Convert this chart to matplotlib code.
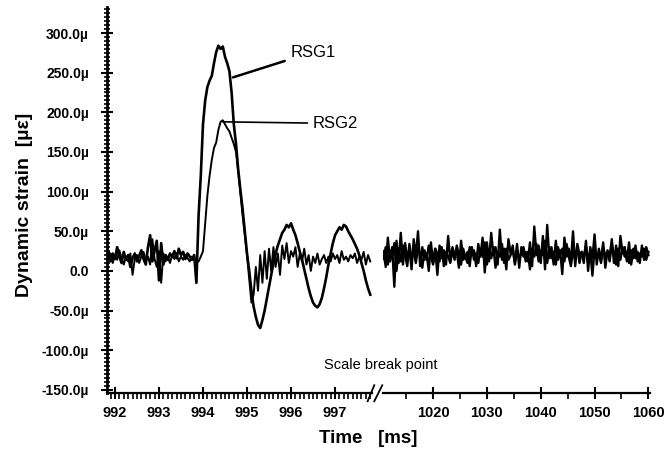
import numpy as np
import matplotlib
matplotlib.use("Agg")
import matplotlib.pyplot as plt
from matplotlib.ticker import MultipleLocator, FixedLocator

plt.rcParams['font.family'] = ['Liberation Sans', 'DejaVu Sans']

# sampling grid of the two recorded windows (ms)
t_left_start, t_left_step = 991.80, 0.05
t_right_start, t_right_step = 1010.8, 0.4

# strain in micro-strain
rsg1_left = [
    20, 25, 12, 22, 15, 30, 18, 10, 24, 14,
    20, 5, 16, 22, 12, 19, 26, 15, 8, 30,
    45, 12, 25, 38, -12, 35, 8, 20, 14, 22,
    18, 25, 16, 28, 20, 24, 15, 22, 18, 14,
    20, -15,
    70, 120, 185, 215, 232, 240, 246, 262, 276, 284,
    280, 283, 270, 262, 252, 225, 185, 160, 128, 102,
    78, 50,
    22, 0, -25, -45, -58, -68, -72, -62, -50, -35,
    -20, -5, 10, 22, 32, 40, 48, 52, 58, 55,
    60, 52, 45, 35, 24, 14, 2, -10, -22, -32,
    -40, -44, -46, -42, -34, -22, -8, 8, 22, 35,
    45, 50, 55, 52, 58, 56, 50, 45, 40, 34,
    28, 20, 10, 0, -12, -22, -30,
]
rsg2_left = [
    15, 18, 22, 10, 20, 14, 26, 16, 8, 18,
    12, 22, -5, 15, 20, 10, 18, 24, 12, 18,
    8, 40, 15, 5, 25, -15, 22, 12, 18, 10,
    20, 15, 22, 12, 18, 14, 20, 16, 12, 18,
    15, 10,
    12, 18, 25, 60, 95, 120, 140, 155, 162, 178,
    188, 190, 185, 180, 176, 168, 160, 150, 125, 98,
    70, 45, 20,
    -10, -40, -30, 5, -25, 20, -15, 25, -10, 28,
    0, 30, 5, 22, -5, 32, 15, 35, 10, 25,
    18, 30, 5, 22, 12, 28, 8, 20, 0, 18,
    10, 22, 8, 15, 20, 10, 18, 12, 22, 15,
    20, 10, 25, 14, 18, 12, 20, 16, 22, 10,
    18, 14, 24, 8, 20, 12,
]
rsg1_right = [
    25, 5, 42, 12, 30, -20, 38, 10, 48, 8,
    35, 15, 28, 2, 40, 18, 50, 6, 30, 14,
    22, 0, 36, 10, 28, -5, 32, 16, 26, 8,
    44, 12, 30, 20, 24, 4, 38, 14, 18, 10,
    30, 22, 26, 6, 34, 18, 42, -2, 36, 12,
    48, 20, 30, 8, 52, 14, 28, 2, 40, 22,
    26, 10, 34, 4, 30, 18, 24, 12, 36, 6,
    56, 20, 32, 10, 44, 2, 58, 16, 30, 8,
    38, 14, 26, -4, 42, 18, 28, 12, 50, 6,
    34, 20, 24, 10, 38, 0, 30, 16, 46, 8,
    28, 14, 36, 4, 26, 18, 40, 10, 32, 6,
    44, 22, 30, 12, 36, 8, 28, 16, 24, 10,
    32, 14, 30, 20,
]
rsg2_right = [
    15, 30, 8, 26, 18, 35, 0, 28, 12, 32,
    20, 6, 34, 16, 24, 10, 30, 20, 4, 26,
    14, 32, 18, 8, 28, 22, 12, 30, 6, 24,
    18, 10, 26, 14, 32, 20, 8, 28, 16, 24,
    6, 30, 14, 22, 10, 28, 18, 36, 8, 26,
    16, 30, 4, 24, 18, 34, 10, 28, 14, 20,
    32, 8, 26, 16, 22, 30, 12, 24, 2, 28,
    18, 34, 12, 26, 20, 38, 10, 30, 16, 24,
    8, 30, 20, 28, 12, 34, 18, 6, 26, 14,
    30, 10, 24, 18, 32, 12, 26, -6, 28, 16,
    22, 10, 30, 18, 24, 12, 34, 20, 8, 28,
    14, 30, 18, 24, 10, 26, 16, 32, 12, 22,
    18, 28, 14, 24,
]

y_ticks = [-150, -100, -50, 0, 50, 100, 150, 200, 250, 300]
y_tick_labels = ['-150.0µ', '-100.0µ', '-50.0µ', '0.0', '50.0µ',
                 '100.0µ', '150.0µ', '200.0µ', '250.0µ', '300.0µ']
x_ticks_left = [992, 993, 994, 995, 996, 997]
x_ticks_right = [1020, 1030, 1040, 1050, 1060]

t_left = t_left_start + t_left_step * np.arange(len(rsg1_left))
t_right = t_right_start + t_right_step * np.arange(len(rsg1_right))

fig = plt.figure(figsize=(6.66, 4.57), dpi=100)
ax1 = fig.add_axes([0.1607, 0.140, 0.3979, 0.845])
ax2 = fig.add_axes([0.5751, 0.140, 0.4009, 0.845], sharey=ax1)

ax1.plot(t_left, rsg2_left, color='black', lw=1.4)
ax1.plot(t_left, rsg1_left, color='black', lw=1.9)
ax2.plot(t_right, rsg2_right, color='black', lw=1.7)
ax2.plot(t_right, rsg1_right, color='black', lw=1.7)

ax1.set_xlim(991.82, 997.84)
ax2.set_xlim(1010.7, 1060.3)
ax1.set_ylim(-154, 333)

for ax in (ax1, ax2):
    ax.spines['top'].set_visible(False)
    ax.spines['right'].set_visible(False)
    ax.spines['bottom'].set_linewidth(1.6)
ax2.spines['left'].set_visible(False)
ax1.spines['left'].set_linewidth(2.0)

ax1.yaxis.set_major_locator(FixedLocator(y_ticks))
ax1.set_yticklabels(y_tick_labels)
ax1.yaxis.set_minor_locator(MultipleLocator(5))
ax1.tick_params(axis='y', which='major', direction='inout', length=8, width=1.5, pad=9, labelsize=10)
ax1.tick_params(axis='y', which='minor', direction='inout', length=5, width=1.2)
ax2.tick_params(axis='y', which='both', left=False, labelleft=False)

ax1.xaxis.set_major_locator(FixedLocator(x_ticks_left))
ax1.xaxis.set_minor_locator(MultipleLocator(0.1))
ax2.xaxis.set_major_locator(FixedLocator(x_ticks_right))
ax2.xaxis.set_minor_locator(MultipleLocator(5))
for ax in (ax1, ax2):
    ax.tick_params(axis='x', which='major', direction='inout', length=9, width=1.5, pad=5, labelsize=10.5)
    ax.tick_params(axis='x', which='minor', direction='out', length=4, width=1.2)
    for lab in ax.get_xticklabels() + ax.get_yticklabels():
        lab.set_fontweight('bold')

# scale break marks
kw = dict(color='black', lw=1.3, clip_on=False, transform=fig.transFigure)
fig.add_artist(plt.Line2D([0.552, 0.562], [0.122, 0.157], **kw))
fig.add_artist(plt.Line2D([0.562, 0.574], [0.122, 0.157], **kw))

# labels
ax1.annotate('RSG1', xy=(994.68, 244), xytext=(995.98, 276),
             fontsize=12, va='center',
             arrowprops=dict(arrowstyle='-', color='black', lw=1.8, shrinkA=2, shrinkB=0))
ax1.annotate('RSG2', xy=(994.45, 188), xytext=(996.5, 186),
             fontsize=12, va='center',
             arrowprops=dict(arrowstyle='-', color='black', lw=1.2, shrinkA=2, shrinkB=0))

fig.text(0.571, 0.201, 'Scale break point', fontsize=10.5, ha='center', va='center')
fig.text(0.553, 0.040, 'Time   [ms]', fontsize=13.5, fontweight='bold', ha='center', va='center')
fig.text(0.037, 0.551, 'Dynamic strain  [µε]', fontsize=14, fontweight='bold',
         rotation=90, ha='center', va='center')

fig.savefig('out.png', dpi=100)
